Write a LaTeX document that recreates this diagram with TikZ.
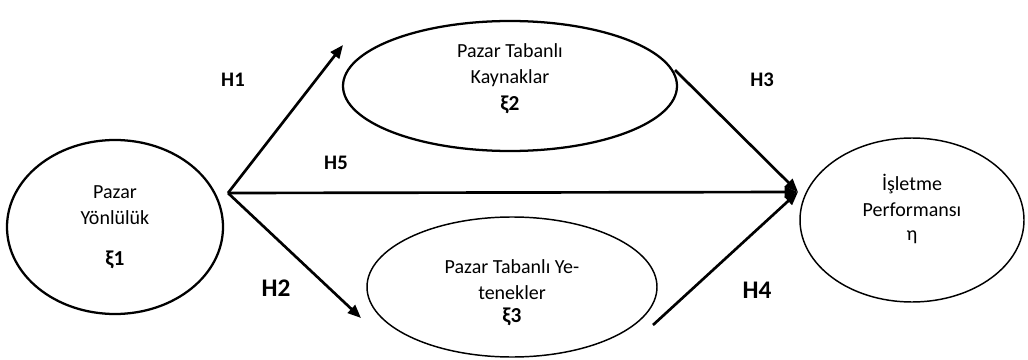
\documentclass[tikz,border=0pt]{standalone}
\usepackage{fontspec}
\setmainfont{Carlito}
\usetikzlibrary{shapes.geometric,arrows.meta}
\begin{document}
\begin{tikzpicture}[x=0.75pt,y=-0.75pt,
  ell/.style={draw,ellipse,inner sep=0pt,line width=1.7pt},
  ellthin/.style={draw,ellipse,inner sep=0pt,line width=1.1pt},
  lbl/.style={font=\fontsize{15}{19.5}\selectfont,align=center,inner sep=0pt},
  sym/.style={font=\fontsize{16}{19.5}\selectfont\bfseries,inner sep=0pt},
  hsmall/.style={font=\fontsize{15.5}{18}\selectfont\bfseries,inner sep=0pt},
  hbig/.style={font=\fontsize{19}{22}\selectfont\bfseries,inner sep=0pt},
  arr/.style={line width=2pt,-{Triangle[length=10pt,width=8pt]}}
]
\useasboundingbox (0,0) rectangle (1028,360);

% ellipses
\node[ell,minimum width=162pt,minimum height=130.5pt] (e1) at (115,227) {};
\node[ell,minimum width=250.5pt,minimum height=97.5pt] (e2) at (510,86) {};
\node[ellthin,minimum width=217.5pt,minimum height=105pt] (e3) at (512,287) {};
\node[ellthin,minimum width=168pt,minimum height=123pt] (e4) at (912,220) {};

% texts
\node[lbl] (t1) at (115,205) {Pazar\\Yönlülük};
\node[sym] (s1) at (115,260) {ξ1};
\node[lbl] (t2) at (510,65) {Pazar Tabanlı\\Kaynaklar};
\node[sym] (s2) at (510,105) {ξ2};
\node[lbl] (t3) at (512,280) {Pazar Tabanlı Ye-\\tenekler};
\node[sym] (s3) at (512,317) {ξ3};
\node[lbl] (t4) at (912,195) {İşletme\\Performansı};
\node[lbl] (s4) at (912,237) {η};

% connector end points
\coordinate (O) at (228,193);
\coordinate (T) at (798,192);
\coordinate (h1e) at (343,45);
\coordinate (h2e) at (361,318);
\coordinate (h3s) at (675,70);
\coordinate (h4s) at (653,325);

\draw[arr] (O) -- (h1e);
\draw[arr] (O) -- (h2e);
\draw[arr] (O) -- (T);
\draw[arr] (h3s) -- (T);
\draw[arr] (h4s) -- (T);

% hypothesis labels
\node[hsmall] (H1) at (233,80) {H1};
\node[hsmall] (H5) at (336,163) {H5};
\node[hbig] (H2) at (276,288) {H2};
\node[hsmall] (H3) at (762,80) {H3};
\node[hbig] (H4) at (757,290) {H4};
\end{tikzpicture}
\end{document}
